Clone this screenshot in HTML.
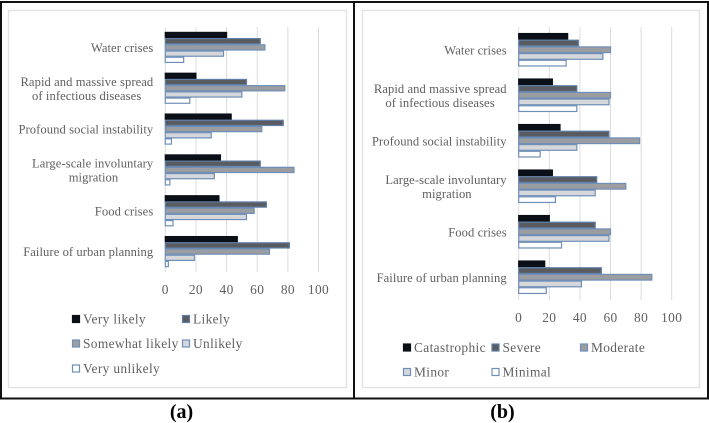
<!DOCTYPE html>
<html lang="en">
<head>
<meta charset="utf-8">
<title>Likelihood and impact of societal risks</title>
<style>
html,body{margin:0;padding:0;background:#fff;width:709px;height:423px;overflow:hidden}
svg{display:block;font-family:"Liberation Serif",serif}
.lbl{font-size:13.4px;fill:#5f5f5f;letter-spacing:.35px}
.cat{font-size:12.6px;fill:#5f5f5f;letter-spacing:.07px}
.cap{font-size:20px;font-weight:bold;fill:#000}
</style>
</head>
<body>
<svg id="fig" xmlns="http://www.w3.org/2000/svg" width="709" height="423" viewBox="0 0 709 423">
<rect x="1" y="2" width="353" height="396.5" fill="#fff" stroke="#111" stroke-width="2"/>
<rect x="354" y="2" width="354" height="396.5" fill="#fff" stroke="#111" stroke-width="2"/>
<rect x="8.5" y="10.5" width="338" height="377" fill="none" stroke="#e2e2e2" stroke-width="1.4"/>
<rect x="362.5" y="10.5" width="337" height="377" fill="none" stroke="#e2e2e2" stroke-width="1.4"/>
<text class="cap" x="181.5" y="418" text-anchor="middle">(a)</text>
<text class="cap" x="502.5" y="418" text-anchor="middle">(b)</text>
<g id="charts"></g>
</svg>
<script>
const categories = [
  ["Water crises"],
  ["Rapid and massive spread", "of infectious diseases"],
  ["Profound social instability"],
  ["Large-scale involuntary", "migration"],
  ["Food crises"],
  ["Failure of urban planning"]
];
const tickLabels = [0, 20, 40, 60, 80, 100];

const seriesNamesA = ["Very likely", "Likely", "Somewhat likely", "Unlikely", "Very unlikely"];
const veryLikely = [40, 20, 43, 36, 35, 47];
const likely = [62, 53, 77, 62, 66, 81];
const somewhatLikely = [65, 78, 63, 84, 58, 68];
const unlikely = [38, 50, 30, 32, 53, 19];
const veryUnlikely = [12, 16, 4, 3, 5, 2];

const seriesNamesB = ["Catastrophic", "Severe", "Moderate", "Minor", "Minimal"];
const catastrophic = [32, 22, 27, 22, 20, 17];
const severe = [39, 38, 59, 51, 50, 54];
const moderate = [60, 60, 79, 70, 60, 87];
const minor = [55, 59, 38, 50, 59, 41];
const minimal = [31, 38, 14, 24, 28, 18];

const fills = ["#0b0f17", "#595b60", "#9c9da1", "#d5d7db", "#ffffff"];
const strokes = ["#0b0f17", "#5f7fa8", "#6f8fb8", "#6f8fb8", "#6f8fb8"];

const NS = "http://www.w3.org/2000/svg";
const root = document.getElementById("charts");

function make(tag, attrs, parent) {
  const el = document.createElementNS(NS, tag);
  for (const k in attrs) el.setAttribute(k, attrs[k]);
  parent.appendChild(el);
  return el;
}

function drawChart(cfg, series, names) {
  const g = make("g", {}, root);
  
  
  const xScale = v => cfg.x0 + v * (cfg.x100 - cfg.x0) / 100;
  const groupH = (cfg.bottom - cfg.top) / categories.length;
  const barH = groupH * cfg.barRatio;

  tickLabels.forEach(t => {
    const line = make("line", {x1: xScale(t), x2: xScale(t), y1: cfg.top, y2: cfg.bottom, stroke: "#dcdcdc", "stroke-width": 1}, g);
    
    
    const label = make("text", {x: xScale(t), y: cfg.tickY, "text-anchor": "middle", class: "lbl"}, g);
    
    
    label.textContent = t;
  });

  categories.forEach((cat, i) => {
    const cy = cfg.top + groupH * (i + 0.5);
    cat.forEach((ln, j) => {
      const label = make("text", {
        x: cat.length > 1 && j > 0 ? cfg.x0 - 12 - cfg.wrapShift[i] : cfg.x0 - 12,
        y: cy + 4.5 + (j - (cat.length - 1) / 2) * 14,
        "text-anchor": "end",
        class: "cat"
      }, g);
      
      
      label.textContent = ln;
    });
    series.forEach((vals, s) => {
      const y = cy - barH * 2.5 + s * barH;
      const bar = make("rect", {
        x: xScale(0), y: y + 0.5,
        width: Math.max(xScale(vals[i]) - xScale(0), 0),
        height: barH - 1,
        fill: fills[s], stroke: strokes[s], "stroke-width": 1.2
      }, g);
      
      
    });
  });

  names.forEach((name, s) => {
    const [lx, ly] = cfg.legend[s];
    const sw = make("rect", {x: lx + 0.5, y: ly - 3.5, width: 7, height: 7, fill: fills[s], stroke: strokes[s], "stroke-width": 1.2}, g);
    
    
    const label = make("text", {x: lx + 11, y: ly + 4.5, class: "lbl"}, g);
    
    
    label.textContent = name;
  });
}

drawChart({
  x0: 165.3, x100: 318.5, top: 27, bottom: 272, tickY: 294, barRatio: 0.152,
  wrapShift: [0, 12, 0, 35, 0, 0],
  legend: [[72, 319], [182, 319], [72, 343.5], [182, 343.5], [72, 368.5]]
}, [veryLikely, likely, somewhatLikely, unlikely, veryUnlikely], seriesNamesA);

drawChart({
  x0: 518.7, x100: 671.7, top: 27, bottom: 300, tickY: 322, barRatio: 0.147,
  wrapShift: [0, 12, 0, 35, 0, 0],
  legend: [[403, 347.5], [491.5, 347.5], [580, 347.5], [403, 372], [491.5, 372]]
}, [catastrophic, severe, moderate, minor, minimal], seriesNamesB);
</script>
</body>
</html>
